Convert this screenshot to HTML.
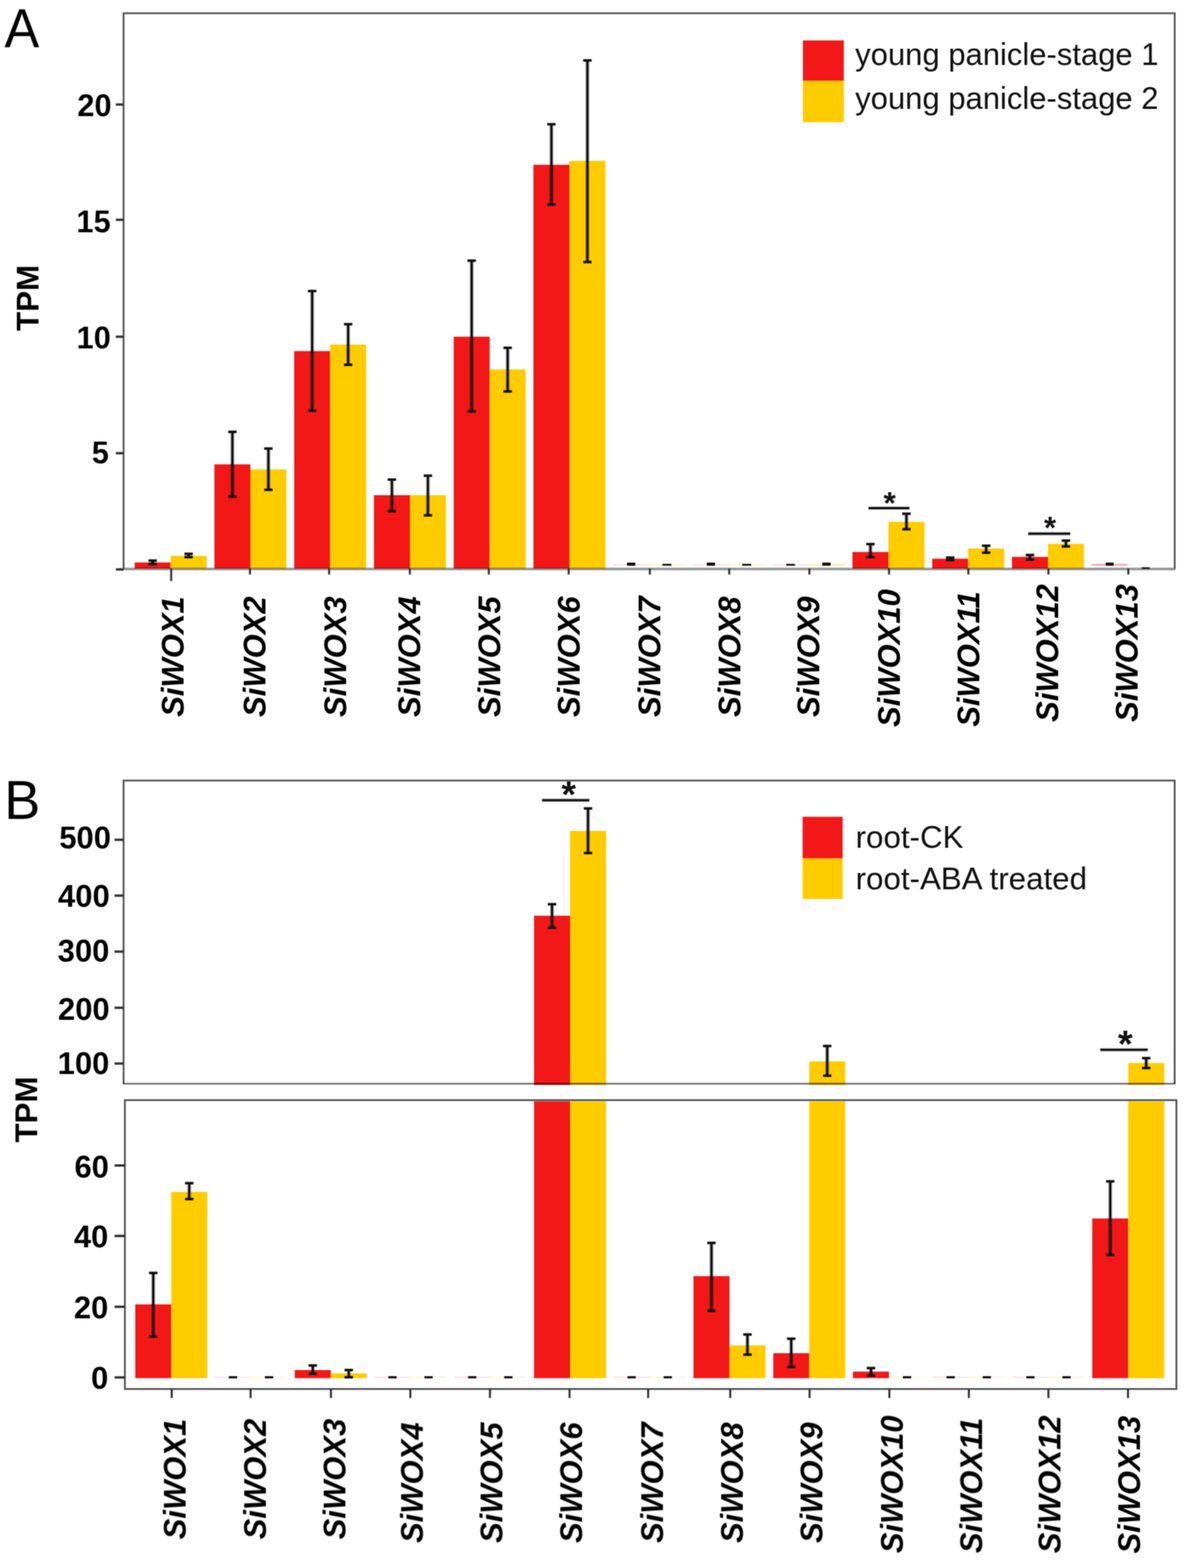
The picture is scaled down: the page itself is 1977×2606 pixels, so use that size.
<!DOCTYPE html>
<html><head><meta charset="utf-8"><title>SiWOX expression</title><style>html,body{margin:0;padding:0;background:#fff;}svg{display:block;}</style></head><body>
<svg width="1977" height="2606" viewBox="0 0 1977 2606" font-family="'Liberation Sans', Arial, Helvetica, sans-serif">
<style>.th{}</style>
<defs><filter id="soft" x="0" y="0" width="1977" height="2606" filterUnits="userSpaceOnUse" color-interpolation-filters="sRGB"><feConvolveMatrix order="3" kernelMatrix="1 2 1 2 4 2 1 2 1" divisor="16" edgeMode="duplicate" preserveAlpha="false"/></filter></defs>
<rect x="0" y="0" width="1977" height="2606" fill="#ffffff"/>
<g filter="url(#soft)">
<text transform="translate(7.6,77.6) scale(0.962,1)" font-size="90" fill="#000">A</text>
<text x="6.9" y="1361" font-size="90" fill="#000">B</text>
<rect x="223.7" y="934.8" width="59.8" height="10.0" fill="#f21818"/>
<rect x="283.5" y="923.8" width="59.8" height="21.0" fill="#ffcc00"/>
<rect x="356.2" y="771.7" width="59.8" height="173.1" fill="#f21818"/>
<rect x="416.0" y="780.2" width="59.8" height="164.6" fill="#ffcc00"/>
<rect x="488.7" y="583.5" width="59.8" height="361.3" fill="#f21818"/>
<rect x="548.5" y="572.7" width="59.8" height="372.1" fill="#ffcc00"/>
<rect x="621.2" y="823.0" width="59.8" height="121.8" fill="#f21818"/>
<rect x="681.0" y="823.0" width="59.8" height="121.8" fill="#ffcc00"/>
<rect x="753.7" y="559.6" width="59.8" height="385.2" fill="#f21818"/>
<rect x="813.5" y="614.0" width="59.8" height="330.8" fill="#ffcc00"/>
<rect x="886.2" y="273.9" width="59.8" height="670.9" fill="#f21818"/>
<rect x="946.0" y="267.4" width="59.8" height="677.4" fill="#ffcc00"/>
<rect x="1416.2" y="917.4" width="59.8" height="27.4" fill="#f21818"/>
<rect x="1476.0" y="867.3" width="59.8" height="77.5" fill="#ffcc00"/>
<rect x="1548.7" y="928.6" width="59.8" height="16.2" fill="#f21818"/>
<rect x="1608.5" y="911.6" width="59.8" height="33.2" fill="#ffcc00"/>
<rect x="1681.2" y="925.5" width="59.8" height="19.3" fill="#f21818"/>
<rect x="1741.0" y="903.9" width="59.8" height="40.9" fill="#ffcc00"/>
<line x1="253.6" y1="931.7" x2="253.6" y2="937.5" stroke="#000" stroke-opacity="0.4" stroke-width="6.5"/>
<line x1="253.6" y1="931.7" x2="253.6" y2="937.5" stroke="#000" stroke-width="3"/>
<rect x="246.6" y="929.6" width="14" height="4.2" fill="#111"/>
<rect x="246.6" y="935.4" width="14" height="4.2" fill="#111"/>
<line x1="313.4" y1="920.5" x2="313.4" y2="925.9" stroke="#000" stroke-opacity="0.4" stroke-width="6.5"/>
<line x1="313.4" y1="920.5" x2="313.4" y2="925.9" stroke="#000" stroke-width="3"/>
<rect x="306.4" y="918.4" width="14" height="4.2" fill="#111"/>
<rect x="306.4" y="923.8" width="14" height="4.2" fill="#111"/>
<line x1="386.1" y1="717.7" x2="386.1" y2="825.3" stroke="#000" stroke-opacity="0.4" stroke-width="6.5"/>
<line x1="386.1" y1="717.7" x2="386.1" y2="825.3" stroke="#000" stroke-width="3"/>
<rect x="379.1" y="715.6" width="14" height="4.2" fill="#111"/>
<rect x="379.1" y="823.2" width="14" height="4.2" fill="#111"/>
<line x1="445.9" y1="745.5" x2="445.9" y2="814.1" stroke="#000" stroke-opacity="0.4" stroke-width="6.5"/>
<line x1="445.9" y1="745.5" x2="445.9" y2="814.1" stroke="#000" stroke-width="3"/>
<rect x="438.9" y="743.4" width="14" height="4.2" fill="#111"/>
<rect x="438.9" y="812.0" width="14" height="4.2" fill="#111"/>
<line x1="518.6" y1="483.7" x2="518.6" y2="682.6" stroke="#000" stroke-opacity="0.4" stroke-width="6.5"/>
<line x1="518.6" y1="483.7" x2="518.6" y2="682.6" stroke="#000" stroke-width="3"/>
<rect x="511.6" y="481.6" width="14" height="4.2" fill="#111"/>
<rect x="511.6" y="680.5" width="14" height="4.2" fill="#111"/>
<line x1="578.4" y1="538.8" x2="578.4" y2="606.3" stroke="#000" stroke-opacity="0.4" stroke-width="6.5"/>
<line x1="578.4" y1="538.8" x2="578.4" y2="606.3" stroke="#000" stroke-width="3"/>
<rect x="571.4" y="536.7" width="14" height="4.2" fill="#111"/>
<rect x="571.4" y="604.2" width="14" height="4.2" fill="#111"/>
<line x1="651.1" y1="797.1" x2="651.1" y2="849.6" stroke="#000" stroke-opacity="0.4" stroke-width="6.5"/>
<line x1="651.1" y1="797.1" x2="651.1" y2="849.6" stroke="#000" stroke-width="3"/>
<rect x="644.1" y="795.0" width="14" height="4.2" fill="#111"/>
<rect x="644.1" y="847.5" width="14" height="4.2" fill="#111"/>
<line x1="710.9" y1="790.6" x2="710.9" y2="856.5" stroke="#000" stroke-opacity="0.4" stroke-width="6.5"/>
<line x1="710.9" y1="790.6" x2="710.9" y2="856.5" stroke="#000" stroke-width="3"/>
<rect x="703.9" y="788.5" width="14" height="4.2" fill="#111"/>
<rect x="703.9" y="854.4" width="14" height="4.2" fill="#111"/>
<line x1="783.6" y1="433.2" x2="783.6" y2="683.8" stroke="#000" stroke-opacity="0.4" stroke-width="6.5"/>
<line x1="783.6" y1="433.2" x2="783.6" y2="683.8" stroke="#000" stroke-width="3"/>
<rect x="776.6" y="431.1" width="14" height="4.2" fill="#111"/>
<rect x="776.6" y="681.7" width="14" height="4.2" fill="#111"/>
<line x1="843.4" y1="578.1" x2="843.4" y2="650.6" stroke="#000" stroke-opacity="0.4" stroke-width="6.5"/>
<line x1="843.4" y1="578.1" x2="843.4" y2="650.6" stroke="#000" stroke-width="3"/>
<rect x="836.4" y="576.0" width="14" height="4.2" fill="#111"/>
<rect x="836.4" y="648.5" width="14" height="4.2" fill="#111"/>
<line x1="916.1" y1="206.5" x2="916.1" y2="339.9" stroke="#000" stroke-opacity="0.4" stroke-width="6.5"/>
<line x1="916.1" y1="206.5" x2="916.1" y2="339.9" stroke="#000" stroke-width="3"/>
<rect x="909.1" y="204.4" width="14" height="4.2" fill="#111"/>
<rect x="909.1" y="337.8" width="14" height="4.2" fill="#111"/>
<line x1="975.9" y1="100.4" x2="975.9" y2="435.5" stroke="#000" stroke-opacity="0.4" stroke-width="6.5"/>
<line x1="975.9" y1="100.4" x2="975.9" y2="435.5" stroke="#000" stroke-width="3"/>
<rect x="968.9" y="98.3" width="14" height="4.2" fill="#111"/>
<rect x="968.9" y="433.4" width="14" height="4.2" fill="#111"/>
<line x1="1446.1" y1="904.3" x2="1446.1" y2="925.9" stroke="#000" stroke-opacity="0.4" stroke-width="6.5"/>
<line x1="1446.1" y1="904.3" x2="1446.1" y2="925.9" stroke="#000" stroke-width="3"/>
<rect x="1439.1" y="902.2" width="14" height="4.2" fill="#111"/>
<rect x="1439.1" y="923.8" width="14" height="4.2" fill="#111"/>
<line x1="1505.9" y1="853.8" x2="1505.9" y2="879.6" stroke="#000" stroke-opacity="0.4" stroke-width="6.5"/>
<line x1="1505.9" y1="853.8" x2="1505.9" y2="879.6" stroke="#000" stroke-width="3"/>
<rect x="1498.9" y="851.7" width="14" height="4.2" fill="#111"/>
<rect x="1498.9" y="877.5" width="14" height="4.2" fill="#111"/>
<line x1="1578.6" y1="926.7" x2="1578.6" y2="930.9" stroke="#000" stroke-opacity="0.4" stroke-width="6.5"/>
<line x1="1578.6" y1="926.7" x2="1578.6" y2="930.9" stroke="#000" stroke-width="3"/>
<rect x="1571.6" y="924.6" width="14" height="4.2" fill="#111"/>
<rect x="1571.6" y="928.8" width="14" height="4.2" fill="#111"/>
<line x1="1638.4" y1="907.0" x2="1638.4" y2="918.6" stroke="#000" stroke-opacity="0.4" stroke-width="6.5"/>
<line x1="1638.4" y1="907.0" x2="1638.4" y2="918.6" stroke="#000" stroke-width="3"/>
<rect x="1631.4" y="904.9" width="14" height="4.2" fill="#111"/>
<rect x="1631.4" y="916.5" width="14" height="4.2" fill="#111"/>
<line x1="1711.1" y1="922.4" x2="1711.1" y2="930.1" stroke="#000" stroke-opacity="0.4" stroke-width="6.5"/>
<line x1="1711.1" y1="922.4" x2="1711.1" y2="930.1" stroke="#000" stroke-width="3"/>
<rect x="1704.1" y="920.3" width="14" height="4.2" fill="#111"/>
<rect x="1704.1" y="928.0" width="14" height="4.2" fill="#111"/>
<line x1="1770.9" y1="898.5" x2="1770.9" y2="908.2" stroke="#000" stroke-opacity="0.4" stroke-width="6.5"/>
<line x1="1770.9" y1="898.5" x2="1770.9" y2="908.2" stroke="#000" stroke-width="3"/>
<rect x="1763.9" y="896.4" width="14" height="4.2" fill="#111"/>
<rect x="1763.9" y="906.1" width="14" height="4.2" fill="#111"/>
<rect x="1018.7" y="937.5" width="59.8" height="2.7" fill="#fde4e4"/>
<rect x="1078.5" y="937.5" width="59.8" height="2.7" fill="#fff4d6"/>
<rect x="1041.6" y="935.0" width="13.8" height="5.2" fill="#0d0d0d"/>
<rect x="1100.5" y="937.2" width="15" height="3.0" fill="#0d0d0d"/>
<rect x="1151.2" y="937.5" width="59.8" height="2.7" fill="#fde4e4"/>
<rect x="1211.0" y="937.5" width="59.8" height="2.7" fill="#fff4d6"/>
<rect x="1174.1" y="935.0" width="13.8" height="5.2" fill="#0d0d0d"/>
<rect x="1233.0" y="937.2" width="15" height="3.0" fill="#0d0d0d"/>
<rect x="1283.7" y="937.5" width="59.8" height="2.7" fill="#fde4e4"/>
<rect x="1343.5" y="937.5" width="59.8" height="2.7" fill="#fde9a8"/>
<rect x="1306.2" y="937.2" width="14.5" height="3.0" fill="#0d0d0d"/>
<rect x="1366.1" y="935.0" width="13.8" height="5.2" fill="#0d0d0d"/>
<rect x="1813.7" y="937.3" width="59.8" height="2.7" fill="#ff9e9e"/>
<rect x="1836.9" y="935.0" width="13.2" height="5.2" fill="#0d0d0d"/>
<rect x="1896.9" y="942.8" width="13.2" height="2.6" fill="#0d0d0d"/>
<path d="M205.3,944.8 V22.0 H1951.6 V944.8" fill="none" stroke="#545454" stroke-width="3"/>
<line x1="204.0" y1="945.5999999999999" x2="1952.8999999999999" y2="945.5999999999999" stroke="#000" stroke-opacity="0.42" stroke-width="4.2"/>
<line x1="192.5" y1="946.4" x2="205.3" y2="946.4" stroke="#333" stroke-width="4"/>
<line x1="192.5" y1="753.2" x2="205.3" y2="753.2" stroke="#333" stroke-width="4"/>
<text x="180.8" y="770.2" font-size="51" font-weight="bold" text-anchor="end" fill="#000" class="th">5</text>
<line x1="192.5" y1="559.6" x2="205.3" y2="559.6" stroke="#333" stroke-width="4"/>
<text x="184.1" y="579.1" font-size="51" font-weight="bold" text-anchor="end" fill="#000" class="th">10</text>
<line x1="192.5" y1="365.3" x2="205.3" y2="365.3" stroke="#333" stroke-width="4"/>
<text x="183.8" y="385.7" font-size="51" font-weight="bold" text-anchor="end" fill="#000" class="th">15</text>
<line x1="192.5" y1="173.7" x2="205.3" y2="173.7" stroke="#333" stroke-width="4"/>
<text x="185.3" y="192.5" font-size="51" font-weight="bold" text-anchor="end" fill="#000" class="th">20</text>
<line x1="284.4" y1="944.8" x2="284.4" y2="965.8" stroke="#333" stroke-width="3.4"/>
<line x1="415.3" y1="944.8" x2="415.3" y2="954.8" stroke="#333" stroke-width="3.4"/>
<line x1="546.8" y1="944.8" x2="546.8" y2="954.8" stroke="#333" stroke-width="3.4"/>
<line x1="680.9" y1="944.8" x2="680.9" y2="954.8" stroke="#333" stroke-width="3.4"/>
<line x1="812.1" y1="944.8" x2="812.1" y2="954.8" stroke="#333" stroke-width="3.4"/>
<line x1="944.8" y1="944.8" x2="944.8" y2="954.8" stroke="#333" stroke-width="3.4"/>
<line x1="1079.6" y1="944.8" x2="1079.6" y2="954.8" stroke="#333" stroke-width="3.4"/>
<line x1="1211.5" y1="944.8" x2="1211.5" y2="954.8" stroke="#333" stroke-width="3.4"/>
<line x1="1344.7" y1="944.8" x2="1344.7" y2="954.8" stroke="#333" stroke-width="3.4"/>
<line x1="1477.0" y1="944.8" x2="1477.0" y2="954.8" stroke="#333" stroke-width="3.4"/>
<line x1="1608.8" y1="944.8" x2="1608.8" y2="954.8" stroke="#333" stroke-width="3.4"/>
<line x1="1741.8" y1="944.8" x2="1741.8" y2="954.8" stroke="#333" stroke-width="3.4"/>
<line x1="1874.5" y1="944.8" x2="1874.5" y2="954.8" stroke="#333" stroke-width="3.4"/>
<line x1="1442.9" y1="844.5" x2="1510.8" y2="844.5" stroke="#000" stroke-opacity="0.35" stroke-width="6"/>
<line x1="1442.9" y1="844.5" x2="1510.8" y2="844.5" stroke="#000" stroke-width="3"/>
<text x="1478" y="854.2" font-size="52.5" font-weight="bold" text-anchor="middle" fill="#111">*</text>
<line x1="1708.2" y1="886.9" x2="1778" y2="886.9" stroke="#000" stroke-opacity="0.35" stroke-width="6"/>
<line x1="1708.2" y1="886.9" x2="1778" y2="886.9" stroke="#000" stroke-width="3"/>
<text x="1744.5" y="895.0" font-size="51.5" font-weight="bold" text-anchor="middle" fill="#111">*</text>
<rect x="1333.9" y="67.2" width="68" height="67" fill="#f21818"/>
<rect x="1333.9" y="134.2" width="68" height="68.8" fill="#ffcc00"/>
<text x="1420.8" y="107.9" font-size="51.5" fill="#111">young panicle-stage 1</text>
<text x="1420.8" y="180.9" font-size="51.5" fill="#111">young panicle-stage 2</text>
<text transform="translate(64.2,550) rotate(-90)" font-size="52" font-weight="bold" fill="#000" class="th">TPM</text>
<text transform="translate(304.5,1191.3) rotate(-90) scale(1.0,1)" font-size="51.5" font-weight="bold" font-style="italic" fill="#000" class="th">SiWOX1</text>
<text transform="translate(441.4,1191.5) rotate(-90) scale(1.0,1)" font-size="51.5" font-weight="bold" font-style="italic" fill="#000" class="th">SiWOX2</text>
<text transform="translate(574.5,1191.5) rotate(-90) scale(1.0,1)" font-size="51.5" font-weight="bold" font-style="italic" fill="#000" class="th">SiWOX3</text>
<text transform="translate(697.7,1191.5) rotate(-90) scale(1.0,1)" font-size="51.5" font-weight="bold" font-style="italic" fill="#000" class="th">SiWOX4</text>
<text transform="translate(830.9,1191.5) rotate(-90) scale(1.0,1)" font-size="51.5" font-weight="bold" font-style="italic" fill="#000" class="th">SiWOX5</text>
<text transform="translate(962.8,1191.5) rotate(-90) scale(1.0,1)" font-size="51.5" font-weight="bold" font-style="italic" fill="#000" class="th">SiWOX6</text>
<text transform="translate(1097.0,1191.5) rotate(-90) scale(1.0,1)" font-size="51.5" font-weight="bold" font-style="italic" fill="#000" class="th">SiWOX7</text>
<text transform="translate(1229.8,1191.6) rotate(-90) scale(1.0,1)" font-size="51.5" font-weight="bold" font-style="italic" fill="#000" class="th">SiWOX8</text>
<text transform="translate(1361.1,1191.6) rotate(-90) scale(1.0,1)" font-size="51.5" font-weight="bold" font-style="italic" fill="#000" class="th">SiWOX9</text>
<text transform="translate(1495.4,1208.2) rotate(-90) scale(1.0,1)" font-size="51.5" font-weight="bold" font-style="italic" fill="#000" class="th">SiWOX10</text>
<text transform="translate(1627.4,1207.8) rotate(-90) scale(1.0,1)" font-size="51.5" font-weight="bold" font-style="italic" fill="#000" class="th">SiWOX11</text>
<text transform="translate(1758.0,1199.7) rotate(-90) scale(1.0,1)" font-size="51.5" font-weight="bold" font-style="italic" fill="#000" class="th">SiWOX12</text>
<text transform="translate(1890.2,1199.7) rotate(-90) scale(1.0,1)" font-size="51.5" font-weight="bold" font-style="italic" fill="#000" class="th">SiWOX13</text>
<defs><clipPath id="cu"><rect x="205.3" y="1297.3" width="1746.2" height="506.3"/></clipPath>
<clipPath id="cl"><rect x="207.5" y="1828.4" width="1746.9" height="480.1"/></clipPath></defs>
<g clip-path="url(#cl)">
<rect x="224.7" y="2167.9" width="59.8" height="122.6" fill="#f21818"/>
<rect x="284.5" y="1981.0" width="59.8" height="309.5" fill="#ffcc00"/>
<rect x="357.2" y="2287.6" width="59.8" height="2.4" fill="#fde4e4"/>
<rect x="417.0" y="2287.6" width="59.8" height="2.4" fill="#fff4d6"/>
<rect x="489.7" y="2277.0" width="59.8" height="13.5" fill="#f21818"/>
<rect x="549.5" y="2282.5" width="59.8" height="8.0" fill="#ffcc00"/>
<rect x="622.2" y="2287.6" width="59.8" height="2.4" fill="#fde4e4"/>
<rect x="682.0" y="2287.6" width="59.8" height="2.4" fill="#fff4d6"/>
<rect x="754.7" y="2287.6" width="59.8" height="2.4" fill="#fde4e4"/>
<rect x="814.5" y="2287.6" width="59.8" height="2.4" fill="#fff4d6"/>
<rect x="887.2" y="1830.4" width="59.8" height="460.1" fill="#f21818"/>
<rect x="947.0" y="1830.4" width="59.8" height="460.1" fill="#ffcc00"/>
<rect x="1019.6" y="2287.6" width="59.8" height="2.4" fill="#fde4e4"/>
<rect x="1079.4" y="2287.6" width="59.8" height="2.4" fill="#fff4d6"/>
<rect x="1152.1" y="2120.9" width="59.8" height="169.6" fill="#f21818"/>
<rect x="1211.9" y="2236.1" width="59.8" height="54.4" fill="#ffcc00"/>
<rect x="1284.6" y="2249.0" width="59.8" height="41.5" fill="#f21818"/>
<rect x="1344.4" y="1830.4" width="59.8" height="460.1" fill="#ffcc00"/>
<rect x="1417.1" y="2279.6" width="59.8" height="10.9" fill="#f21818"/>
<rect x="1476.9" y="2287.6" width="59.8" height="2.4" fill="#fff4d6"/>
<rect x="1549.6" y="2287.6" width="59.8" height="2.4" fill="#fde4e4"/>
<rect x="1609.4" y="2287.6" width="59.8" height="2.4" fill="#fff4d6"/>
<rect x="1682.1" y="2287.6" width="59.8" height="2.4" fill="#fde4e4"/>
<rect x="1741.9" y="2287.6" width="59.8" height="2.4" fill="#fff4d6"/>
<rect x="1814.6" y="2025.1" width="59.8" height="265.4" fill="#f21818"/>
<rect x="1874.4" y="1830.4" width="59.8" height="460.1" fill="#ffcc00"/>
<line x1="254.6" y1="2115.6" x2="254.6" y2="2221.4" stroke="#000" stroke-opacity="0.4" stroke-width="6.5"/>
<line x1="254.6" y1="2115.6" x2="254.6" y2="2221.4" stroke="#000" stroke-width="3"/>
<rect x="247.6" y="2113.5" width="14" height="4.2" fill="#111"/>
<rect x="247.6" y="2219.3" width="14" height="4.2" fill="#111"/>
<line x1="314.4" y1="1966.4" x2="314.4" y2="1992.8" stroke="#000" stroke-opacity="0.4" stroke-width="6.5"/>
<line x1="314.4" y1="1966.4" x2="314.4" y2="1992.8" stroke="#000" stroke-width="3"/>
<rect x="307.4" y="1964.3" width="14" height="4.2" fill="#111"/>
<rect x="307.4" y="1990.7" width="14" height="4.2" fill="#111"/>
<rect x="380.1" y="2287.2" width="13.8" height="3.6" fill="#0d0d0d"/>
<rect x="440.1" y="2287.2" width="13.8" height="3.6" fill="#0d0d0d"/>
<line x1="519.6" y1="2269.4" x2="519.6" y2="2283.2" stroke="#000" stroke-opacity="0.4" stroke-width="6.5"/>
<line x1="519.6" y1="2269.4" x2="519.6" y2="2283.2" stroke="#000" stroke-width="3"/>
<rect x="512.6" y="2267.3" width="14" height="4.2" fill="#111"/>
<rect x="512.6" y="2281.1" width="14" height="4.2" fill="#111"/>
<line x1="579.4" y1="2277.0" x2="579.4" y2="2289.0" stroke="#000" stroke-opacity="0.4" stroke-width="6.5"/>
<line x1="579.4" y1="2277.0" x2="579.4" y2="2289.0" stroke="#000" stroke-width="3"/>
<rect x="572.4" y="2274.9" width="14" height="4.2" fill="#111"/>
<rect x="572.4" y="2286.9" width="14" height="4.2" fill="#111"/>
<rect x="645.1" y="2287.2" width="13.8" height="3.6" fill="#0d0d0d"/>
<rect x="705.1" y="2287.2" width="13.8" height="3.6" fill="#0d0d0d"/>
<rect x="777.6" y="2287.2" width="13.8" height="3.6" fill="#0d0d0d"/>
<rect x="837.6" y="2287.2" width="13.8" height="3.6" fill="#0d0d0d"/>
<rect x="1042.5" y="2287.2" width="13.8" height="3.6" fill="#0d0d0d"/>
<rect x="1102.5" y="2287.2" width="13.8" height="3.6" fill="#0d0d0d"/>
<line x1="1182.0" y1="2065.7" x2="1182.0" y2="2178.5" stroke="#000" stroke-opacity="0.4" stroke-width="6.5"/>
<line x1="1182.0" y1="2065.7" x2="1182.0" y2="2178.5" stroke="#000" stroke-width="3"/>
<rect x="1175.0" y="2063.6" width="14" height="4.2" fill="#111"/>
<rect x="1175.0" y="2176.4" width="14" height="4.2" fill="#111"/>
<line x1="1241.8" y1="2217.9" x2="1241.8" y2="2251.4" stroke="#000" stroke-opacity="0.4" stroke-width="6.5"/>
<line x1="1241.8" y1="2217.9" x2="1241.8" y2="2251.4" stroke="#000" stroke-width="3"/>
<rect x="1234.8" y="2215.8" width="14" height="4.2" fill="#111"/>
<rect x="1234.8" y="2249.3" width="14" height="4.2" fill="#111"/>
<line x1="1314.5" y1="2224.9" x2="1314.5" y2="2271.7" stroke="#000" stroke-opacity="0.4" stroke-width="6.5"/>
<line x1="1314.5" y1="2224.9" x2="1314.5" y2="2271.7" stroke="#000" stroke-width="3"/>
<rect x="1307.5" y="2222.8" width="14" height="4.2" fill="#111"/>
<rect x="1307.5" y="2269.6" width="14" height="4.2" fill="#111"/>
<line x1="1447.0" y1="2273.7" x2="1447.0" y2="2286.1" stroke="#000" stroke-opacity="0.4" stroke-width="6.5"/>
<line x1="1447.0" y1="2273.7" x2="1447.0" y2="2286.1" stroke="#000" stroke-width="3"/>
<rect x="1440.0" y="2271.6" width="14" height="4.2" fill="#111"/>
<rect x="1440.0" y="2284.0" width="14" height="4.2" fill="#111"/>
<rect x="1500.0" y="2287.2" width="13.8" height="3.6" fill="#0d0d0d"/>
<rect x="1572.5" y="2287.2" width="13.8" height="3.6" fill="#0d0d0d"/>
<rect x="1632.5" y="2287.2" width="13.8" height="3.6" fill="#0d0d0d"/>
<rect x="1705.0" y="2287.2" width="13.8" height="3.6" fill="#0d0d0d"/>
<rect x="1765.0" y="2287.2" width="13.8" height="3.6" fill="#0d0d0d"/>
<line x1="1844.5" y1="1963.4" x2="1844.5" y2="2085.7" stroke="#000" stroke-opacity="0.4" stroke-width="6.5"/>
<line x1="1844.5" y1="1963.4" x2="1844.5" y2="2085.7" stroke="#000" stroke-width="3"/>
<rect x="1837.5" y="1961.3" width="14" height="4.2" fill="#111"/>
<rect x="1837.5" y="2083.6" width="14" height="4.2" fill="#111"/>
</g>
<g clip-path="url(#cu)">
<rect x="887.2" y="1521.9" width="59.8" height="281.7" fill="#f21818"/>
<rect x="947.0" y="1381.0" width="59.8" height="422.6" fill="#ffcc00"/>
<rect x="1344.4" y="1764.0" width="59.8" height="39.6" fill="#ffcc00"/>
<rect x="1874.4" y="1766.7" width="59.8" height="36.9" fill="#ffcc00"/>
<line x1="917.1" y1="1502.8" x2="917.1" y2="1541.9" stroke="#000" stroke-opacity="0.4" stroke-width="6.5"/>
<line x1="917.1" y1="1502.8" x2="917.1" y2="1541.9" stroke="#000" stroke-width="3"/>
<rect x="910.1" y="1500.7" width="14" height="4.2" fill="#111"/>
<rect x="910.1" y="1539.8" width="14" height="4.2" fill="#111"/>
<line x1="976.9" y1="1343.6" x2="976.9" y2="1417.7" stroke="#000" stroke-opacity="0.4" stroke-width="6.5"/>
<line x1="976.9" y1="1343.6" x2="976.9" y2="1417.7" stroke="#000" stroke-width="3"/>
<rect x="969.9" y="1341.5" width="14" height="4.2" fill="#111"/>
<rect x="969.9" y="1415.6" width="14" height="4.2" fill="#111"/>
<line x1="1374.3" y1="1738.4" x2="1374.3" y2="1787.8" stroke="#000" stroke-opacity="0.4" stroke-width="6.5"/>
<line x1="1374.3" y1="1738.4" x2="1374.3" y2="1787.8" stroke="#000" stroke-width="3"/>
<rect x="1367.3" y="1736.3" width="14" height="4.2" fill="#111"/>
<rect x="1367.3" y="1785.7" width="14" height="4.2" fill="#111"/>
<line x1="1904.3" y1="1758.6" x2="1904.3" y2="1775.1" stroke="#000" stroke-opacity="0.4" stroke-width="6.5"/>
<line x1="1904.3" y1="1758.6" x2="1904.3" y2="1775.1" stroke="#000" stroke-width="3"/>
<rect x="1897.3" y="1756.5" width="14" height="4.2" fill="#111"/>
<rect x="1897.3" y="1773.0" width="14" height="4.2" fill="#111"/>
</g>
<path d="M205.3,1801.1 V1297.3 H1951.5 V1801.1" fill="none" stroke="#545454" stroke-width="3"/>
<line x1="204.0" y1="1801.1" x2="1952.8" y2="1801.1" stroke="#000" stroke-opacity="0.58" stroke-width="2.8"/>
<rect x="207.5" y="1828.4" width="1746.9" height="480.0999999999999" fill="none" stroke="#545454" stroke-width="3"/>
<line x1="190.3" y1="1767.6" x2="205.3" y2="1767.6" stroke="#333" stroke-width="4"/>
<text x="181.7" y="1785.1" font-size="51.5" font-weight="bold" text-anchor="end" fill="#000" class="th">100</text>
<line x1="190.3" y1="1674.9" x2="205.3" y2="1674.9" stroke="#333" stroke-width="4"/>
<text x="182.2" y="1695.3" font-size="51.5" font-weight="bold" text-anchor="end" fill="#000" class="th">200</text>
<line x1="190.3" y1="1581.6" x2="205.3" y2="1581.6" stroke="#333" stroke-width="4"/>
<text x="181.7" y="1598.1" font-size="51.5" font-weight="bold" text-anchor="end" fill="#000" class="th">300</text>
<line x1="190.3" y1="1488.5" x2="205.3" y2="1488.5" stroke="#333" stroke-width="4"/>
<text x="182.3" y="1507.2" font-size="51.5" font-weight="bold" text-anchor="end" fill="#000" class="th">400</text>
<line x1="190.3" y1="1395.7" x2="205.3" y2="1395.7" stroke="#333" stroke-width="4"/>
<text x="184.4" y="1409.6" font-size="51.5" font-weight="bold" text-anchor="end" fill="#000" class="th">500</text>
<line x1="190.4" y1="2289.3" x2="207.5" y2="2289.3" stroke="#333" stroke-width="4"/>
<text x="180.0" y="2307.7" font-size="51.5" font-weight="bold" text-anchor="end" fill="#000" class="th">0</text>
<line x1="190.4" y1="2171.9" x2="207.5" y2="2171.9" stroke="#333" stroke-width="4"/>
<text x="180.0" y="2190.9" font-size="51.5" font-weight="bold" text-anchor="end" fill="#000" class="th">20</text>
<line x1="190.4" y1="2054.2" x2="207.5" y2="2054.2" stroke="#333" stroke-width="4"/>
<text x="180.0" y="2073.2" font-size="51.5" font-weight="bold" text-anchor="end" fill="#000" class="th">40</text>
<line x1="190.4" y1="1937" x2="207.5" y2="1937" stroke="#333" stroke-width="4"/>
<text x="181.0" y="1956.5" font-size="51.5" font-weight="bold" text-anchor="end" fill="#000" class="th">60</text>
<line x1="285.3" y1="2308.5" x2="285.3" y2="2323.5" stroke="#333" stroke-width="3.4"/>
<line x1="416.3" y1="2308.5" x2="416.3" y2="2323.5" stroke="#333" stroke-width="3.4"/>
<line x1="549.8" y1="2308.5" x2="549.8" y2="2323.5" stroke="#333" stroke-width="3.4"/>
<line x1="681.7" y1="2308.5" x2="681.7" y2="2323.5" stroke="#333" stroke-width="3.4"/>
<line x1="814.0" y1="2308.5" x2="814.0" y2="2323.5" stroke="#333" stroke-width="3.4"/>
<line x1="946.2" y1="2308.5" x2="946.2" y2="2323.5" stroke="#333" stroke-width="3.4"/>
<line x1="1076.8" y1="2308.5" x2="1076.8" y2="2323.5" stroke="#333" stroke-width="3.4"/>
<line x1="1213.2" y1="2308.5" x2="1213.2" y2="2323.5" stroke="#333" stroke-width="3.4"/>
<line x1="1345.0" y1="2308.5" x2="1345.0" y2="2323.5" stroke="#333" stroke-width="3.4"/>
<line x1="1477.5" y1="2308.5" x2="1477.5" y2="2323.5" stroke="#333" stroke-width="3.4"/>
<line x1="1609.6" y1="2308.5" x2="1609.6" y2="2323.5" stroke="#333" stroke-width="3.4"/>
<line x1="1741.8" y1="2308.5" x2="1741.8" y2="2323.5" stroke="#333" stroke-width="3.4"/>
<line x1="1874.0" y1="2308.5" x2="1874.0" y2="2323.5" stroke="#333" stroke-width="3.4"/>
<line x1="900.7" y1="1330" x2="979.1" y2="1330" stroke="#000" stroke-opacity="0.35" stroke-width="6"/>
<line x1="900.7" y1="1330" x2="979.1" y2="1330" stroke="#000" stroke-width="3"/>
<text x="944.7" y="1340.6" font-size="62" font-weight="bold" text-anchor="middle" fill="#111">*</text>
<line x1="1827.9" y1="1744.8" x2="1906.8" y2="1744.8" stroke="#000" stroke-opacity="0.35" stroke-width="6"/>
<line x1="1827.9" y1="1744.8" x2="1906.8" y2="1744.8" stroke="#000" stroke-width="3"/>
<text x="1869.6" y="1755.8" font-size="63" font-weight="bold" text-anchor="middle" fill="#111">*</text>
<rect x="1333.4" y="1357.5" width="66.5" height="69.2" fill="#f21818"/>
<rect x="1333.4" y="1426.7" width="66.5" height="67.3" fill="#ffcc00"/>
<text x="1421.5" y="1409" font-size="52" fill="#111">root-CK</text>
<text x="1421.5" y="1477.6" font-size="52" fill="#111">root-ABA treated</text>
<text transform="translate(61.7,1898.9) rotate(-90)" font-size="52" font-weight="bold" fill="#000" class="th">TPM</text>
<text transform="translate(308.4,2558.3) rotate(-90) scale(1.0,1)" font-size="51.5" font-weight="bold" font-style="italic" fill="#000" class="th">SiWOX1</text>
<text transform="translate(441.7,2558.3) rotate(-90) scale(1.0,1)" font-size="51.5" font-weight="bold" font-style="italic" fill="#000" class="th">SiWOX2</text>
<text transform="translate(573.8,2558.3) rotate(-90) scale(1.0,1)" font-size="51.5" font-weight="bold" font-style="italic" fill="#000" class="th">SiWOX3</text>
<text transform="translate(702.4,2564.4) rotate(-90) scale(1.0,1)" font-size="51.5" font-weight="bold" font-style="italic" fill="#000" class="th">SiWOX4</text>
<text transform="translate(834.5,2564.4) rotate(-90) scale(1.0,1)" font-size="51.5" font-weight="bold" font-style="italic" fill="#000" class="th">SiWOX5</text>
<text transform="translate(966.9,2564.4) rotate(-90) scale(1.0,1)" font-size="51.5" font-weight="bold" font-style="italic" fill="#000" class="th">SiWOX6</text>
<text transform="translate(1101.4,2564.4) rotate(-90) scale(1.0,1)" font-size="51.5" font-weight="bold" font-style="italic" fill="#000" class="th">SiWOX7</text>
<text transform="translate(1234.1,2564.4) rotate(-90) scale(1.0,1)" font-size="51.5" font-weight="bold" font-style="italic" fill="#000" class="th">SiWOX8</text>
<text transform="translate(1366.2,2564.4) rotate(-90) scale(1.0,1)" font-size="51.5" font-weight="bold" font-style="italic" fill="#000" class="th">SiWOX9</text>
<text transform="translate(1499.8,2581.4) rotate(-90) scale(1.0,1)" font-size="51.5" font-weight="bold" font-style="italic" fill="#000" class="th">SiWOX10</text>
<text transform="translate(1631.5,2581.4) rotate(-90) scale(1.0,1)" font-size="51.5" font-weight="bold" font-style="italic" fill="#000" class="th">SiWOX11</text>
<text transform="translate(1761.7,2581.4) rotate(-90) scale(1.0,1)" font-size="51.5" font-weight="bold" font-style="italic" fill="#000" class="th">SiWOX12</text>
<text transform="translate(1893.9,2582.0) rotate(-90) scale(1.0,1)" font-size="51.5" font-weight="bold" font-style="italic" fill="#000" class="th">SiWOX13</text>
</g>
</svg>
</body></html>
